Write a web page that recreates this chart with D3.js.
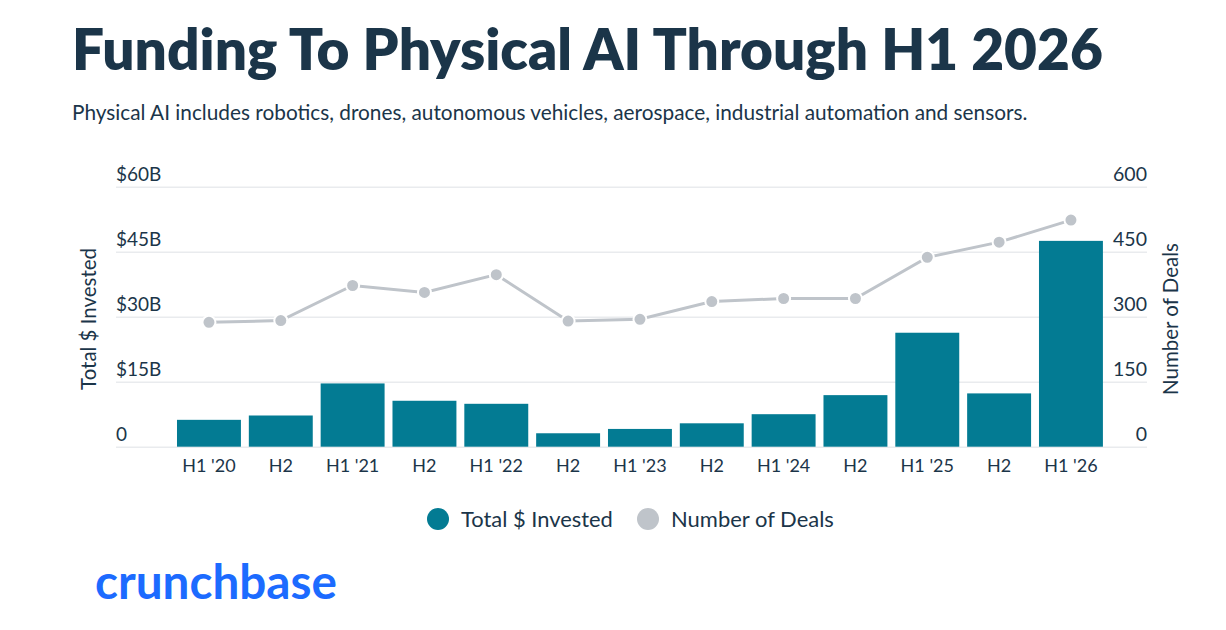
<!DOCTYPE html>
<html>
<head>
<meta charset="utf-8">
<script src="https://cdn.jsdelivr.net/npm/d3@7"></script>
<style>
  body { margin: 0; background: #fff; }
  svg { display: block; font-family: Lato, "Noto Sans", sans-serif; }
</style>
</head>
<body>
<svg id="chart" width="1226" height="630"></svg>
<script>
// data
const periodKeys = ["2020H1", "2020H2", "2021H1", "2021H2", "2022H1", "2022H2", "2023H1",
  "2023H2", "2024H1", "2024H2", "2025H1", "2025H2", "2026H1"];
const periodLabels = ["H1 '20", "H2", "H1 '21", "H2", "H1 '22", "H2", "H1 '23",
  "H2", "H1 '24", "H2", "H1 '25", "H2", "H1 '26"];
const invested = [6.2, 7.2, 14.6, 10.6, 9.9, 3.1, 4.1, 5.4, 7.5, 11.9, 26.3, 12.3, 47.5]; // $B
const deals = [287, 291, 372, 356, 397, 290, 294, 335, 342, 342, 437, 472, 523];
const investedTicks = [0, 15, 30, 45, 60];
const dealTicks = [0, 150, 300, 450, 600];

const textColor = "#1b3549";
const barColor = "#037b93";
const dealColor = "#bfc4ca";
const gridColor = "#e9ebee";

const svg = d3.select("#chart");

// fits a text element to a given width by scaling its font size
function fitWidth(sel, width) {
  sel.each(function () {
    const t = d3.select(this);
    const w = this.getComputedTextLength();
    const fs = parseFloat(t.attr("font-size"));
    t.attr("font-size", fs * width / w);
  });
}

// title + subtitle
const title = svg.append("text")
  .attr("x", 72).attr("y", 70)
  .attr("font-size", 56)
  .attr("font-weight", 800)
  .attr("fill", textColor)
  .text("Funding To Physical AI Through H1 2026");
fitWidth(title, 1031);

const subtitle = svg.append("text")
  .attr("x", 72).attr("y", 120)
  .attr("font-size", 19)
  .attr("fill", textColor)
  .text("Physical AI includes robotics, drones, autonomous vehicles, aerospace, industrial automation and sensors.");
fitWidth(subtitle, 956);

// plot area
const plotLeft = 116, plotRight = 1147, plotTop = 186.7, plotBottom = 446.7;

const x = d3.scaleBand()
  .domain(periodKeys)
  .range([173.4, 1106.5])
  .paddingInner(0.11)
  .paddingOuter(0.05);

const y = d3.scaleLinear().domain([0, 60]).range([plotBottom, plotTop]);
const y2 = d3.scaleLinear().domain([0, 600]).range([plotBottom, plotTop]);

// left axis with gridlines
const yAxis = svg.append("g")
  .attr("transform", `translate(${plotLeft},0)`)
  .call(d3.axisRight(y)
    .tickValues(investedTicks)
    .tickSize(plotRight - plotLeft)
    .tickFormat(d => d === 0 ? "0" : `$${d}B`));
yAxis.select(".domain").remove();
yAxis.selectAll(".tick line").attr("stroke", gridColor).attr("stroke-width", 1.5);
yAxis.selectAll(".tick text")
  .attr("x", 0).attr("y", -6).attr("dy", null)
  .attr("text-anchor", "start")
  .attr("font-size", 19)
  .attr("font-family", "Lato, sans-serif")
  .attr("fill", textColor);

// right axis labels
const y2Axis = svg.append("g")
  .attr("transform", `translate(${plotRight},0)`)
  .call(d3.axisLeft(y2).tickValues(dealTicks).tickSize(0));
y2Axis.select(".domain").remove();
y2Axis.selectAll(".tick text")
  .attr("x", 0).attr("y", -6).attr("dy", null)
  .attr("text-anchor", "end")
  .attr("font-size", 19.5)
  .attr("font-family", "Lato, sans-serif")
  .attr("fill", textColor);

// axis titles
const leftTitle = svg.append("text")
  .attr("transform", "translate(96,319) rotate(-90)")
  .attr("text-anchor", "middle")
  .attr("font-size", 19)
  .attr("fill", textColor)
  .text("Total $ Invested");
fitWidth(leftTitle, 142);

const rightTitle = svg.append("text")
  .attr("transform", "translate(1178,319) rotate(-90)")
  .attr("text-anchor", "middle")
  .attr("font-size", 19)
  .attr("fill", textColor)
  .text("Number of Deals");
fitWidth(rightTitle, 152);

// bars
svg.append("g")
  .selectAll("rect")
  .data(invested)
  .join("rect")
  .attr("x", (d, i) => x(periodKeys[i]))
  .attr("y", d => y(d))
  .attr("width", x.bandwidth())
  .attr("height", d => y(0) - y(d))
  .attr("fill", barColor);

// x axis
const xAxis = svg.append("g")
  .attr("transform", `translate(0,${plotBottom})`)
  .call(d3.axisBottom(x).tickSize(0).tickFormat((d, i) => periodLabels[i]));
xAxis.select(".domain").remove();
xAxis.selectAll(".tick text")
  .attr("y", 25).attr("dy", null)
  .attr("font-size", 18)
  .attr("font-family", "Lato, sans-serif")
  .attr("fill", textColor);

// deals line
const cx = i => x(periodKeys[i]) + x.bandwidth() / 2;
const line = d3.line()
  .x((d, i) => cx(i))
  .y(d => y2(d));

svg.append("path")
  .datum(deals)
  .attr("d", line)
  .attr("fill", "none")
  .attr("stroke", dealColor)
  .attr("stroke-width", 3);

svg.append("g")
  .selectAll("circle")
  .data(deals)
  .join("circle")
  .attr("cx", (d, i) => cx(i))
  .attr("cy", d => y2(d))
  .attr("r", 6.5)
  .attr("fill", dealColor)
  .attr("stroke", "#fff")
  .attr("stroke-width", 2);

// legend
const legendItems = [
  { label: "Total $ Invested", color: barColor, x: 438, w: 152 },
  { label: "Number of Deals", color: dealColor, x: 648, w: 163 }
];
const legend = svg.append("g")
  .selectAll("g")
  .data(legendItems)
  .join("g")
  .attr("transform", d => `translate(${d.x},519)`);
legend.append("circle").attr("r", 11).attr("fill", d => d.color);
legend.append("text")
  .attr("x", 23).attr("y", 7.5)
  .attr("font-size", 20)
  .attr("fill", textColor)
  .text(d => d.label)
  .each(function (d) { fitWidth(d3.select(this), d.w); });

// crunchbase wordmark
const logo = svg.append("text")
  .attr("x", 95).attr("y", 599)
  .attr("font-size", 40)
  .attr("font-weight", 700)
  .attr("font-family", "Lato, sans-serif")
  .attr("fill", "#1c6bff")
  .text("crunchbase");
fitWidth(logo, 242);
</script>
</body>
</html>
